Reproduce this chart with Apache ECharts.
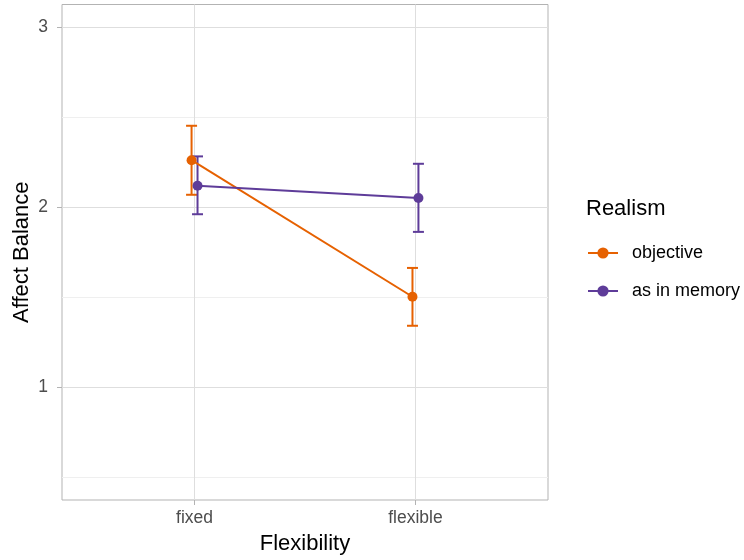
<!DOCTYPE html>
<html>
<head>
<meta charset="utf-8">
<script src="https://cdn.jsdelivr.net/npm/echarts@6/dist/echarts.min.js"></script>
<style>
  html, body { margin: 0; padding: 0; background: #fff; }
  #chart { width: 744px; height: 560px; }
</style>
</head>
<body>
<div id="chart"></div>
<script>
const categories = ['fixed', 'flexible']
const groups = ['objective', 'as in memory']
const colors = ['#E66101', '#5E3C99']
// mean, lower, upper per category
const objMean = [2.261, 1.503]
const objLow = [2.069, 1.342]
const objHigh = [2.452, 1.663]
const memMean = [2.119, 2.051]
const memLow = [1.961, 1.863]
const memHigh = [2.282, 2.241]
const yTicks = [1, 2, 3]
const yMinor = [0.5, 1.5, 2.5]
const dodge = 0.0135

function pts(mean, low, high, shift) {
  let line = [], bars = []
  for (let i = 0; i < mean.length; i++) {
    line.push([i + 1 + shift, mean[i]])
    bars.push([i + 1 + shift, low[i], high[i]])
  }
  return { line, bars }
}
const obj = pts(objMean, objLow, objHigh, -dodge)
const mem = pts(memMean, memLow, memHigh, dodge)

function errBar(color) {
  return function (params, api) {
    const x = api.value(0)
    const lo = api.coord([x, api.value(1)])
    const hi = api.coord([x, api.value(2)])
    const w = 5.5
    const style = { stroke: color, lineWidth: 2 }
    return {
      type: 'group',
      children: [
        { type: 'line', shape: { x1: lo[0], y1: lo[1], x2: hi[0], y2: hi[1] }, style },
        { type: 'line', shape: { x1: lo[0] - w, y1: lo[1], x2: lo[0] + w, y2: lo[1] }, style },
        { type: 'line', shape: { x1: hi[0] - w, y1: hi[1], x2: hi[0] + w, y2: hi[1] }, style }
      ]
    }
  }
}

const gridColor = '#DEDEDE'
const labelStyle = { color: '#4D4D4D', fontSize: 17.5, fontFamily: 'Liberation Sans' }

let option = {
  animation: false,
  textStyle: { fontFamily: 'Liberation Sans' },
  title: {
    text: 'Realism',
    left: 581,
    top: 193,
    textStyle: { fontSize: 22, fontWeight: 'normal', color: '#000', fontFamily: 'Liberation Sans' }
  },
  legend: {
    orient: 'vertical',
    left: 582,
    top: 239,
    itemWidth: 30,
    itemHeight: 14,
    itemGap: 20,
    data: groups,
    textStyle: { fontSize: 18, color: '#000', padding: [0, 0, 0, 9] }
  },
  grid: {
    left: 62, right: 196, top: 4.5, bottom: 60,
    outerBoundsMode: 'none',
    containLabel: false,
    show: true,
    borderColor: '#B3B3B3',
    borderWidth: 1
  },
  xAxis: {
    type: 'value',
    min: 0.4,
    max: 2.6,
    name: 'Flexibility',
    nameLocation: 'middle',
    nameGap: 33,
    nameTextStyle: { fontSize: 22, color: '#000' },
    axisLine: { show: false },
    axisTick: { show: true, length: 5, lineStyle: { color: '#B3B3B3' }, customValues: [1, 2] },
    axisLabel: Object.assign({ margin: 9, customValues: [1, 2], formatter: v => categories[Math.round(v) - 1] || '' }, labelStyle),
    splitLine: { show: true, lineStyle: { color: gridColor, width: 1 } }
  },
  yAxis: [{
    type: 'value',
    min: 0.375,
    max: 3.125,
    name: 'Affect Balance',
    nameLocation: 'middle',
    nameGap: 29,
    nameMoveOverlap: false,
    nameTextStyle: { fontSize: 22, color: '#000' },
    axisLine: { show: false },
    axisTick: { show: true, length: 5, lineStyle: { color: '#B3B3B3' }, customValues: yTicks },
    axisLabel: Object.assign({ margin: 14, customValues: yTicks }, labelStyle),
    splitLine: { show: true, lineStyle: { color: gridColor, width: 1 } }
  }, {
    type: 'value',
    min: 0.375,
    max: 3.125,
    position: 'left',
    axisLine: { show: false },
    axisTick: { show: false, customValues: yMinor },
    axisLabel: { show: false, customValues: yMinor },
    splitLine: { show: true, lineStyle: { color: '#EFEFEF', width: 1 } }
  }],
  series: [
    {
      name: 'objective',
      type: 'line',
      data: obj.line,
      symbol: 'circle',
      symbolSize: 10,
      itemStyle: { color: colors[0] },
      lineStyle: { color: colors[0], width: 2 },
      z: 4
    },
    {
      name: 'as in memory',
      type: 'line',
      data: mem.line,
      symbol: 'circle',
      symbolSize: 10,
      itemStyle: { color: colors[1] },
      lineStyle: { color: colors[1], width: 2 },
      z: 4
    },
    {
      name: 'objective',
      type: 'custom',
      data: obj.bars,
      renderItem: errBar(colors[0]),
      itemStyle: { color: colors[0] },
      z: 3
    },
    {
      name: 'as in memory',
      type: 'custom',
      data: mem.bars,
      renderItem: errBar(colors[1]),
      itemStyle: { color: colors[1] },
      z: 3
    }
  ]
}

let myChart = echarts.init(document.getElementById('chart'))
myChart.setOption(option)
</script>
</body>
</html>
